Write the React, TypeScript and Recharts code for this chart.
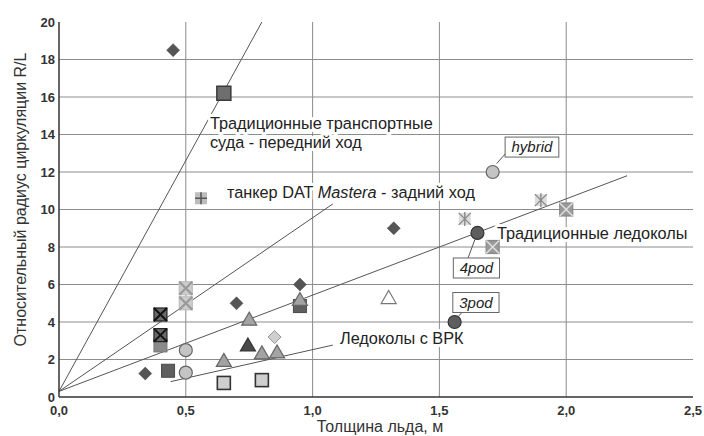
import { CartesianGrid, ReferenceLine, Scatter, ScatterChart, XAxis, YAxis } from 'recharts';

// axes
const xTicks = [0, 0.5, 1, 1.5, 2, 2.5];
const yTicks = [0, 2, 4, 6, 8, 10, 12, 14, 16, 18, 20];
const xGrid = [0.5, 1, 1.5, 2];
const yGrid = [2, 4, 6, 8, 10, 12, 14, 16, 18];

// markers, [ice thickness m, R/L]
const darkDiamonds = [
  { x: 0.45, y: 18.5 },
  { x: 0.34, y: 1.25 },
  { x: 0.7, y: 5.0 },
  { x: 0.95, y: 6.0 },
  { x: 1.32, y: 9.0 },
];
const lightDiamonds = [{ x: 0.85, y: 3.2 }];
const bigSquares = [{ x: 0.65, y: 16.2 }];
const darkSquares = [
  { x: 0.43, y: 1.4 },
  { x: 0.95, y: 4.85 },
];
const midSquares = [{ x: 0.4, y: 2.75 }];
const lightSquares = [
  { x: 0.65, y: 0.75 },
  { x: 0.8, y: 0.9 },
];
const plusSquares = [{ x: 0.56, y: 10.6 }];
const blackXSquares = [
  { x: 0.4, y: 4.4 },
  { x: 0.4, y: 3.3 },
];
const paleXSquares = [
  { x: 0.5, y: 5.8 },
  { x: 0.5, y: 5.0 },
];
const grayXSquares = [
  { x: 2.0, y: 10.0 },
  { x: 1.71, y: 8.0 },
];
const asterisks = [
  { x: 1.6, y: 9.5 },
  { x: 1.9, y: 10.5 },
];
const lightCircles = [
  { x: 0.5, y: 2.5 },
  { x: 0.5, y: 1.3 },
  { x: 1.71, y: 12.0 },
];
const darkCircles = [
  { x: 1.65, y: 8.75 },
  { x: 1.56, y: 4.0 },
];
const grayTriangles = [
  { x: 0.95, y: 5.15 },
  { x: 0.75, y: 4.1 },
  { x: 0.65, y: 1.9 },
  { x: 0.8, y: 2.3 },
  { x: 0.86, y: 2.35 },
];
const darkTriangles = [{ x: 0.745, y: 2.72 }];
const openTriangles = [{ x: 1.3, y: 5.25 }];

// trend lines
const trendLines = [
  [{ x: 0, y: 0.3 }, { x: 0.8, y: 20 }],
  [{ x: 0, y: 0.3 }, { x: 1.08, y: 10.3 }],
  [{ x: 0, y: 0.3 }, { x: 2.24, y: 11.8 }],
  [{ x: 0.44, y: 0.82 }, { x: 1.08, y: 2.77 }],
];

// callouts
const textLabels = [
  { x: 0.595, y: 14.6, text: 'Традиционные транспортные' },
  { x: 0.595, y: 13.6, text: 'суда - передний ход' },
  { x: 0.662, y: 10.93, text: 'танкер DAT ', em: 'Mastera', tail: ' - задний ход' },
  { x: 1.727, y: 8.75, text: 'Традиционные ледоколы' },
  { x: 1.108, y: 3.15, text: 'Ледоколы с ВРК' },
];
const boxLabels = [
  { x: 1.865, y: 13.33, text: 'hybrid' },
  { x: 1.646, y: 6.88, text: '4pod' },
  { x: 1.644, y: 5.04, text: '3pod' },
];
const leaders = [
  [{ x: 1.726, y: 12.45 }, { x: 1.765, y: 13.05 }],
  [{ x: 1.64, y: 8.4 }, { x: 1.613, y: 7.41 }],
  [{ x: 1.575, y: 4.3 }, { x: 1.595, y: 4.6 }],
];

const FONT = '"Liberation Sans", Arial, sans-serif';
const fmt = (v: number) => v.toFixed(1).replace('.', ',');

const diamond = (fill: string, r = 6.5) => (p: any) => (
  <path
    d={`M${p.cx},${p.cy - r}L${p.cx + r},${p.cy}L${p.cx},${p.cy + r}L${p.cx - r},${p.cy}Z`}
    fill={fill}
    stroke="#444"
    strokeWidth={0.5}
  />
);

const square = (fill: string, stroke: string, s = 13, sw = 1) => (p: any) => (
  <rect x={p.cx - s / 2} y={p.cy - s / 2} width={s} height={s} fill={fill} stroke={stroke} strokeWidth={sw} />
);

const xSquare = (fill: string, stroke: string, cross: string, s = 13, cw = 2) => (p: any) => {
  const h = s / 2;
  return (
    <g>
      <rect x={p.cx - h} y={p.cy - h} width={s} height={s} fill={fill} stroke={stroke} strokeWidth={1.2} />
      <path
        d={`M${p.cx - h},${p.cy - h}L${p.cx + h},${p.cy + h}M${p.cx + h},${p.cy - h}L${p.cx - h},${p.cy + h}`}
        stroke={cross}
        strokeWidth={cw}
      />
    </g>
  );
};

const plusSquare = (p: any) => (
  <g>
    <rect x={p.cx - 6} y={p.cy - 6} width={12} height={12} fill="#bdbdbd" />
    <path d={`M${p.cx},${p.cy - 6}V${p.cy + 6}M${p.cx - 6},${p.cy}H${p.cx + 6}`} stroke="#555" strokeWidth={1.5} />
  </g>
);

const asterisk = (p: any) => (
  <g>
    <rect x={p.cx - 6} y={p.cy - 6} width={12} height={12} fill="#dcdcdc" />
    <path
      d={`M${p.cx},${p.cy - 7}V${p.cy + 7}M${p.cx - 6},${p.cy - 6}L${p.cx + 6},${p.cy + 6}M${p.cx + 6},${p.cy - 6}L${p.cx - 6},${p.cy + 6}`}
      stroke="#8a8a8a"
      strokeWidth={1.4}
    />
  </g>
);

const circle = (fill: string, stroke: string) => (p: any) => (
  <circle cx={p.cx} cy={p.cy} r={6.5} fill={fill} stroke={stroke} strokeWidth={1.2} />
);

const triangle = (fill: string, stroke: string) => (p: any) => (
  <path
    d={`M${p.cx},${p.cy - 8}L${p.cx + 7.5},${p.cy + 5}L${p.cx - 7.5},${p.cy + 5}Z`}
    fill={fill}
    stroke={stroke}
    strokeWidth={1.2}
  />
);

const plainLabel = (p: any) => {
  const d = p.payload;
  return (
    <text
      x={p.cx}
      y={p.cy}
      dy="0.35em"
      fontSize={16.3}
      fontFamily={FONT}
      fill="#222"
      stroke="#fff"
      strokeWidth={6}
      strokeLinejoin="round"
      paintOrder="stroke"
    >
      <tspan>{d.text}</tspan>
      {d.em && <tspan fontStyle="italic">{d.em}</tspan>}
      {d.tail && <tspan>{d.tail}</tspan>}
    </text>
  );
};

const charW = (c: string) => (/[0-9bdpoh]/.test(c) ? 8.3 : c === 'r' ? 5 : c === 'i' ? 3.3 : 7.5);

const boxLabel = (p: any) => {
  const t: string = p.payload.text;
  const w = t.split('').reduce((s, c) => s + charW(c), 0) + 13;
  return (
    <g>
      <rect x={p.cx - w / 2} y={p.cy - 10} width={w} height={20} fill="#fff" stroke="#666" strokeWidth={1} />
      <text x={p.cx} y={p.cy} dy="0.35em" textAnchor="middle" fontSize={15} fontStyle="italic" fontFamily={FONT} fill="#222">
        {t}
      </text>
    </g>
  );
};

export default function App() {
  return (
    <div style={{ position: 'absolute', left: 0, top: 0, width: 704, height: 436, background: '#fff' }}>
      <ScatterChart width={704} height={436} margin={{ top: 22, right: 11, bottom: 0, left: 0 }}>
        <CartesianGrid
          horizontalValues={yGrid}
          verticalValues={xGrid}
          stroke="#8c8c8c"
          strokeWidth={1}
        />
        <XAxis
          type="number"
          dataKey="x"
          domain={[0, 2.5]}
          ticks={xTicks}
          tickFormatter={fmt}
          height={39}
          tickSize={0}
          tickMargin={9}
          stroke="#333"
          strokeWidth={1.5}
          tick={{ fontSize: 13, fontWeight: 'bold', fill: '#333', fontFamily: FONT }}
          label={{
            content: ({ viewBox }: any) => (
              <text
                x={viewBox.x + viewBox.width / 2 + 4}
                y={viewBox.y + 35}
                textAnchor="middle"
                fontSize={16}
                fontFamily={FONT}
                fill="#333"
              >
                Толщина льда, м
              </text>
            ),
          }}
        />
        <YAxis
          type="number"
          dataKey="y"
          domain={[0, 20]}
          ticks={yTicks}
          width={59}
          tickSize={0}
          tickMargin={4}
          stroke="#333"
          strokeWidth={1.5}
          tick={{ fontSize: 13, fontWeight: 'bold', fill: '#333', fontFamily: FONT }}
          label={{
            content: ({ viewBox }: any) => {
              const cx = 20;
              const cy = viewBox.y + viewBox.height / 2 - 10;
              return (
                <text
                  x={cx}
                  y={cy}
                  dy="0.35em"
                  textAnchor="middle"
                  transform={`rotate(-90 ${cx} ${cy})`}
                  fontSize={16}
                  fontFamily={FONT}
                  fill="#333"
                >
                  Относительный радиус циркуляции R/L
                </text>
              );
            },
          }}
        />
        <Scatter data={textLabels} shape={plainLabel} isAnimationActive={false} />
        {trendLines.map((seg, i) => (
          <ReferenceLine key={`t${i}`} segment={seg} stroke="#555" strokeWidth={1} ifOverflow="visible" />
        ))}
        {leaders.map((seg, i) => (
          <ReferenceLine key={`l${i}`} segment={seg} stroke="#555" strokeWidth={1} ifOverflow="visible" />
        ))}
        <Scatter data={boxLabels} shape={boxLabel} isAnimationActive={false} />
        <Scatter data={darkSquares} shape={square('#5f5f5f', '#4a4a4a', 13)} isAnimationActive={false} />
        <Scatter data={grayTriangles} shape={triangle('#a3a3a3', '#666')} isAnimationActive={false} />
        <Scatter data={darkTriangles} shape={triangle('#4a4a4a', '#333')} isAnimationActive={false} />
        <Scatter data={openTriangles} shape={triangle('#fff', '#777')} isAnimationActive={false} />
        <Scatter data={darkDiamonds} shape={diamond('#555')} isAnimationActive={false} />
        <Scatter data={lightDiamonds} shape={diamond('#cfcfcf', 6.5)} isAnimationActive={false} />
        <Scatter data={bigSquares} shape={square('#6e6e6e', '#3a3a3a', 14, 1.5)} isAnimationActive={false} />
        <Scatter data={midSquares} shape={square('#8a8a8a', '#777', 13)} isAnimationActive={false} />
        <Scatter data={lightSquares} shape={square('#cfcfcf', '#333', 13, 1.6)} isAnimationActive={false} />
        <Scatter data={plusSquares} shape={plusSquare} isAnimationActive={false} />
        <Scatter data={blackXSquares} shape={xSquare('#6a6a6a', '#222', '#111', 13, 2)} isAnimationActive={false} />
        <Scatter data={paleXSquares} shape={xSquare('#cdcdcd', '#bdbdbd', '#9a9a9a', 13, 2.4)} isAnimationActive={false} />
        <Scatter data={grayXSquares} shape={xSquare('#9a9a9a', '#888', '#dedede', 13, 1.6)} isAnimationActive={false} />
        <Scatter data={asterisks} shape={asterisk} isAnimationActive={false} />
        <Scatter data={lightCircles} shape={circle('#c4c4c4', '#666')} isAnimationActive={false} />
        <Scatter data={darkCircles} shape={circle('#5e5e5e', '#333')} isAnimationActive={false} />
      </ScatterChart>
    </div>
  );
}
